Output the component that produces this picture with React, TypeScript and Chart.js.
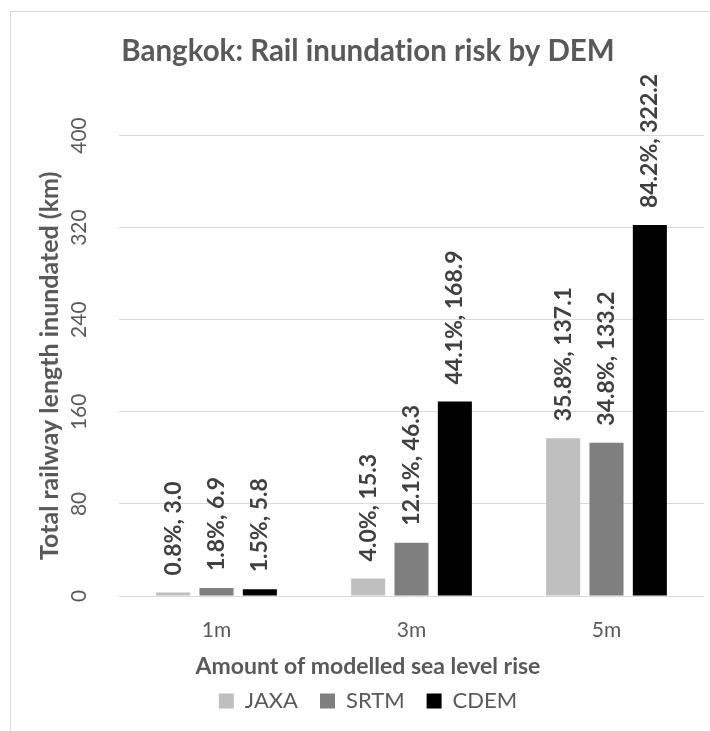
import { useEffect, useRef } from "react";
import { Chart, registerables } from "chart.js";

Chart.register(...registerables);

// Sea level rise scenarios on the x axis
const levels = ["1m", "3m", "5m"];

// Inundated railway length (km) per DEM
const jaxaKm = [3.0, 15.3, 137.1];
const srtmKm = [6.9, 46.3, 133.2];
const cdemKm = [5.8, 168.9, 322.2];

// Share of the network inundated (%) per DEM
const jaxaPct = [0.8, 4.0, 35.8];
const srtmPct = [1.8, 12.1, 34.8];
const cdemPct = [1.5, 44.1, 84.2];

const yMin = 0;
const yMax = 400;
const yStep = 80;

const FONT = "Lato, 'Open Sans', Arial, sans-serif";
const AXIS_GREY = "#595959";
const LABEL_GREY = "#404040";
const GRID_GREY = "#d9d9d9";

const pctByDataset = [jaxaPct, srtmPct, cdemPct];

// Plain glyphs only (no "ti" ligatures) for all canvas text
const plainText = {
  id: "plainText",
  beforeDraw(chart: any) {
    const ctx = chart.ctx as any;
    ctx.textRendering = "optimizeSpeed";
    ctx.fontVariantLigatures = "none";
  },
};

// Writes "pct%, km" vertically above each bar
const barValueLabels = {
  id: "barValueLabels",
  afterDatasetsDraw(chart: any) {
    const ctx = chart.ctx;
    chart.data.datasets.forEach((ds: any, di: number) => {
      const meta = chart.getDatasetMeta(di);
      const pct = pctByDataset[di];
      meta.data.forEach((bar: any, i: number) => {
        const km = ds.data[i] as number;
        const text = `${pct[i].toFixed(1)}%, ${km.toFixed(1)}`;
        ctx.save();
        ctx.translate(bar.x, bar.y - 17);
        ctx.rotate(-Math.PI / 2);
        ctx.font = `bold 23px ${FONT}`;
        ctx.fillStyle = LABEL_GREY;
        ctx.textAlign = "left";
        ctx.textBaseline = "middle";
        ctx.fillText(text, 0, 0);
        ctx.restore();
      });
    });
  },
};

function RailInundationChart() {
  const canvasRef = useRef<HTMLCanvasElement | null>(null);

  useEffect(() => {
    if (!canvasRef.current) return;
    const chart = new Chart(canvasRef.current, {
      type: "bar",
      data: {
        labels: levels,
        datasets: [
          { label: "JAXA", data: jaxaKm, backgroundColor: "#bfbfbf", borderWidth: 0 },
          { label: "SRTM", data: srtmKm, backgroundColor: "#7f7f7f", borderWidth: 0 },
          { label: "CDEM", data: cdemKm, backgroundColor: "#000000", borderWidth: 0 },
        ],
      },
      options: {
        responsive: false,
        animation: false,
        events: [],
        layout: { padding: { top: 0, left: 21, right: 17, bottom: 9 } },
        datasets: {
          bar: { categoryPercentage: 0.667, barPercentage: 0.785 },
        },
        scales: {
          x: {
            grid: { display: false },
            border: { display: false },
            ticks: {
              color: AXIS_GREY,
              font: { family: FONT, size: 21 },
              padding: 14,
            },
            afterFit(scale: any) {
              scale.height = 46;
            },
          },
          y: {
            min: yMin,
            max: yMax,
            grid: { color: GRID_GREY, lineWidth: 1, drawTicks: false },
            border: { display: false },
            ticks: {
              stepSize: yStep,
              autoSkip: false,
              color: AXIS_GREY,
              font: { family: FONT, size: 21 },
              minRotation: 90,
              maxRotation: 90,
              crossAlign: "center",
              padding: 21,
            },
            title: {
              display: true,
              text: "Total railway length inundated (km)",
              color: AXIS_GREY,
              font: { family: FONT, size: 25, weight: "bold" },
              padding: { top: 3, bottom: 0 },
            },
            afterFit(scale: any) {
              scale.width = 87;
            },
          },
        },
        plugins: {
          title: {
            display: true,
            text: "Bangkok: Rail inundation risk by DEM",
            color: AXIS_GREY,
            font: { family: FONT, size: 29.5, weight: "bold" },
            padding: { top: 22, bottom: 66.1 },
          },
          legend: {
            position: "bottom",
            title: {
              display: true,
              text: "Amount of modelled sea level rise",
              color: AXIS_GREY,
              font: { family: FONT, size: 23, weight: "bold" },
              padding: { top: 13.5, bottom: -15.1 },
            },
            labels: {
              color: AXIS_GREY,
              font: { family: FONT, size: 22 },
              boxWidth: 15,
              boxHeight: 15,
              padding: 22,
            },
          },
          tooltip: { enabled: false },
        },
      },
      plugins: [plainText, barValueLabels],
    });
    return () => chart.destroy();
  }, []);

  return (
    <canvas
      ref={canvasRef}
      width={710}
      height={719}
      style={{ position: "absolute", left: 11, top: 12, width: 710, height: 719 }}
    />
  );
}

export default function App() {
  return (
    <div
      style={{
        position: "fixed",
        left: 0,
        top: 0,
        width: 710,
        height: 731,
        overflow: "hidden",
        background: "#ffffff",
      }}
    >
      <div
        style={{
          position: "absolute",
          left: 10,
          top: 11,
          width: 740,
          height: 760,
          border: `1px solid ${GRID_GREY}`,
        }}
      />
      <RailInundationChart />
    </div>
  );
}
